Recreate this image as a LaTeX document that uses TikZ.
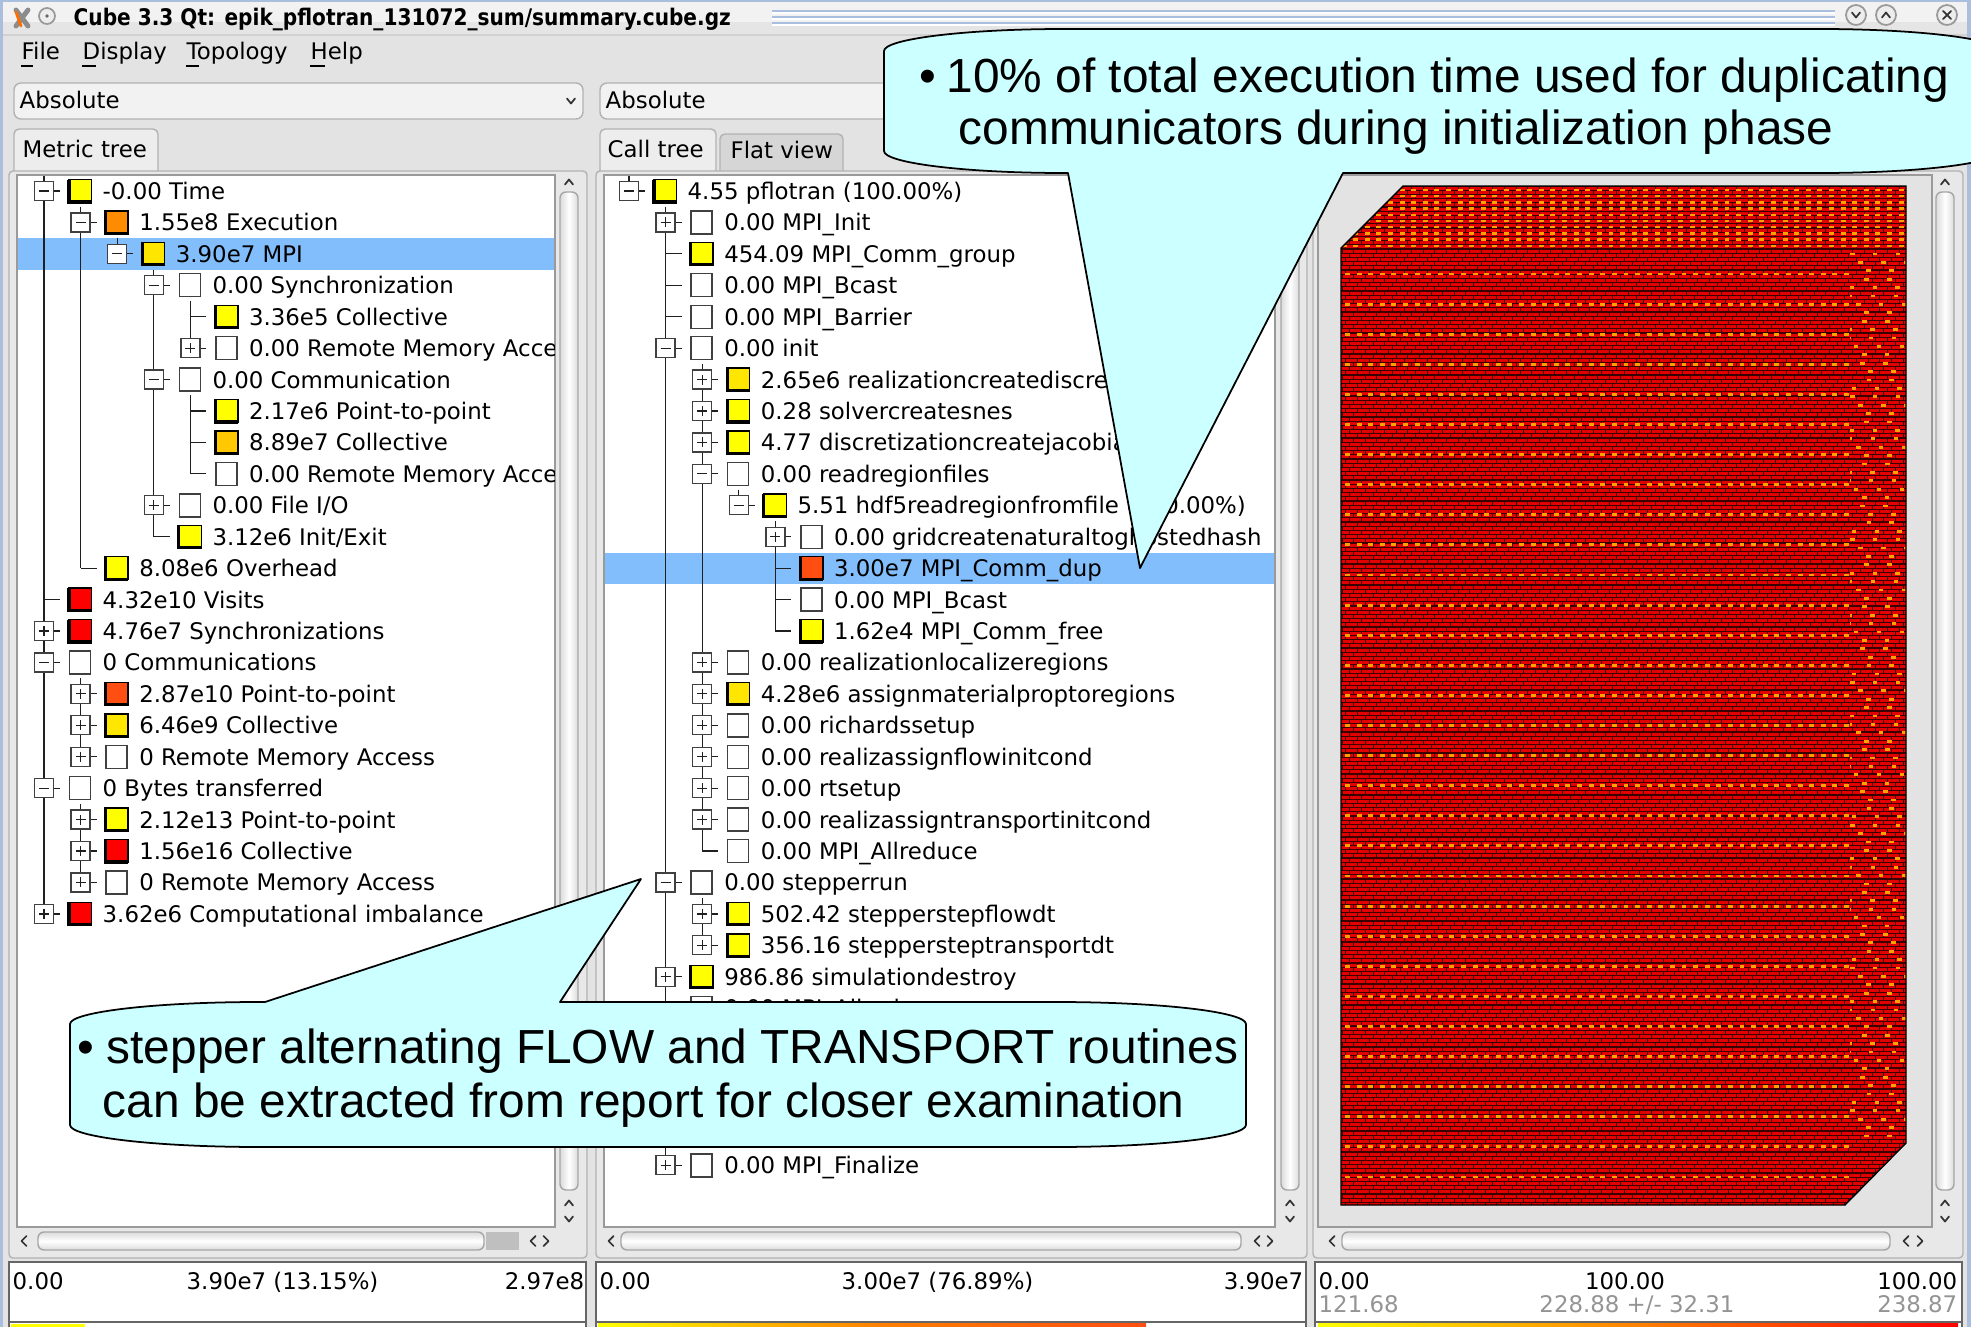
\documentclass[tikz,border=0pt]{standalone}
\usepackage{fontspec}
\newfontfamily\uifont{DejaVu Sans}
\newfontfamily\callfont{Liberation Sans}

\definecolor{winbg}{HTML}{E3E3E3}
\definecolor{paneedge}{HTML}{B2B2B2}
\definecolor{viewedge}{HTML}{9A9A9A}
\definecolor{selblue}{HTML}{82BEFC}
\definecolor{callcyan}{HTML}{CCFFFF}
\definecolor{cYel}{HTML}{FFFF00}
\definecolor{cGold}{HTML}{FFE600}
\definecolor{cOrange}{HTML}{FF8C00}
\definecolor{cAmber}{HTML}{FFC800}
\definecolor{cRedOr}{HTML}{FF4E12}
\definecolor{cRed}{HTML}{FF0000}
\definecolor{topored}{HTML}{E20000}
\definecolor{topodark}{HTML}{3A0000}
\definecolor{topodash}{HTML}{FFA200}
\definecolor{titleblue}{HTML}{A9BFDD}

\tikzset{
  ui/.style={font=\uifont\fontsize{6.5}{7.8}\selectfont, inner sep=0pt, text=black},
  uigray/.style={ui, text=black!42},
  callout/.style={font=\callfont\fontsize{13.6}{16}\selectfont, inner sep=0pt, text=black},
  tline/.style={draw=black!88, line width=0.35pt},
  tbox/.style={draw=black!75, fill=white, line width=0.35pt},
  chev/.style={draw=black!80, line width=0.5pt, line cap=round, line join=round},
  vhandle/.style={draw=black!35, line width=0.4pt, rounded corners=0.06cm,
    left color=black!14, right color=black!14, middle color=white},
  hhandle/.style={draw=black!35, line width=0.4pt, rounded corners=0.06cm,
    top color=black!14, bottom color=black!14, middle color=white},
  bubble/.style={draw=black, line width=0.5pt, fill=callcyan, line join=round},
}

% tree drawing helpers: #1 panel x offset, rows are 31.43 units apart
\newcommand{\tvline}[4]{% level #2, sibling rows #3..#4
  \pgfmathsetmacro\tlx{#1+44+36.6*#2}%
  \pgfmathsetmacro\tly{175.3+31.43*#3}%
  \pgfmathsetmacro\tlz{191+31.43*#4}%
  \draw[tline] (\tlx,\tly) -- (\tlx,\tlz);}
\newcommand{\tbranch}[4]{% row #2, level #3, kind #4: 0 leaf, 1 collapsed, 2 expanded
  \pgfmathsetmacro\tlx{#1+44+36.6*#3}%
  \pgfmathsetmacro\tly{191+31.43*#2}%
  \draw[tline] (\tlx,\tly) -- ++(16,0);
  \ifcase#4\relax
  \or
    \filldraw[tbox] (\tlx-9.5,\tly-9.5) rectangle (\tlx+9.5,\tly+9.5);
    \draw[tline] (\tlx-5,\tly) -- (\tlx+5,\tly) (\tlx,\tly-5) -- (\tlx,\tly+5);
  \or
    \filldraw[tbox] (\tlx-9.5,\tly-9.5) rectangle (\tlx+9.5,\tly+9.5);
    \draw[tline] (\tlx-5,\tly) -- (\tlx+5,\tly);
  \fi}
\newcommand{\tentry}[6]{% coloured value square and label
  \pgfmathsetmacro\tlx{#1+44+36.6*#3}%
  \pgfmathsetmacro\tly{191+31.43*#2}%
  \fill[#4] (\tlx+24.5,\tly-11.5) rectangle (\tlx+47.5,\tly+11.5);
  \draw[black, line width=0.4pt] (\tlx+24.5,\tly-11.5) rectangle (\tlx+47.5,\tly+11.5);
  \draw[black, line width=0.9pt] (\tlx+25,\tly-11.5) -- (\tlx+25,\tly+11) -- (\tlx+47.5,\tly+11);
  \node[ui, anchor=base west] (#5) at (\tlx+58,\tly+8.5) {#6};}
\newcommand{\tentryw}[5]{% empty value square and label
  \pgfmathsetmacro\tlx{#1+44+36.6*#3}%
  \pgfmathsetmacro\tly{191+31.43*#2}%
  \filldraw[draw=black!75, fill=white, line width=0.4pt] (\tlx+25.5,\tly-11.5) rectangle (\tlx+46.5,\tly+11.5);
  \node[ui, anchor=base west] (#4) at (\tlx+58,\tly+8.5) {#5};}
\newcommand{\chevup}[2]{\draw[chev] (#1-4,#2+2.5) -- (#1,#2-2.5) -- (#1+4,#2+2.5);}
\newcommand{\chevdown}[2]{\draw[chev] (#1-4,#2-2.5) -- (#1,#2+2.5) -- (#1+4,#2-2.5);}
\newcommand{\chevleft}[2]{\draw[chev] (#1+2.5,#2-5) -- (#1-2.5,#2) -- (#1+2.5,#2+5);}
\newcommand{\chevright}[2]{\draw[chev] (#1-2.5,#2-5) -- (#1+2.5,#2) -- (#1-2.5,#2+5);}

\begin{document}
\begin{tikzpicture}[x=0.01cm, y=-0.01cm]
\useasboundingbox (0,0) rectangle (1971,1327);
\clip (0,0) rectangle (1971,1327);

% ---------- window ----------
\fill[winbg] (0,0) rectangle (1971,1327);
\fill[white!95!black] (0,0) rectangle (1971,35);
\fill[white!90!black] (0,22) rectangle (1971,35);
\draw[titleblue, line width=0.6pt] (0,0.8) -- (1971,0.8);
\draw[black!18] (0,35) -- (1971,35);
\fill[titleblue] (0,0) rectangle (3,1327);
\fill[titleblue] (1967,0) rectangle (1971,1327);

% title bar
\draw[black!45, line width=1.4pt, line cap=round] (16,10) -- (28,26) (28,10) -- (16,26);
\draw[orange!85!red, line width=0.8pt, line cap=round] (16,12) -- (21,26);
\draw[black!40, fill=white!93!black, line width=0.5pt] (47,16) circle[radius=8];
\fill[black!60] (47,16) circle[radius=1.8];
\node[ui, anchor=base west] (title) at (73,25)
  {\scalebox{0.88}[1]{\bfseries Cube 3.3 Qt: epik\_pflotran\_131072\_sum/summary.cube.gz}};
\foreach \yy in {11,17,23} {
  \draw[titleblue, line width=0.45pt] (772,\yy) -- (1835,\yy);
  \draw[white, line width=0.45pt] (772,\yy+2) -- (1835,\yy+2);
}
\foreach \cx in {1856,1886,1947}
  \draw[black!40, fill=white!93!black, line width=0.5pt] (\cx,15) circle[radius=10];
\chevdown{1856}{15}
\chevup{1886}{15}
\draw[chev] (1943,11) -- (1951,19) (1951,11) -- (1943,19);

% menu bar
\node[ui, anchor=base west] (mFile) at (21,60) {File};
\node[ui, anchor=base west] (mDisp) at (82,60) {Display};
\node[ui, anchor=base west] (mTopo) at (186,60) {Topology};
\node[ui, anchor=base west] (mHelp) at (310,60) {Help};
\draw[black, line width=0.35pt] (21,66) -- (33,66) (82,66) -- (96,66) (186,66) -- (199,66) (310,66) -- (325,66);

% value mode selectors
\draw[black!30, fill=white!95!black, rounded corners=0.07cm] (14,83) rectangle (583,119);
\node[ui, anchor=base west] (selL) at (19,108) {Absolute};
\chevdown{571}{101}
\draw[black!30, fill=white!95!black, rounded corners=0.07cm] (600,83) rectangle (1300,119);
\node[ui, anchor=base west] (selM) at (605,108) {Absolute};

% tabs
\draw[paneedge, fill=white!93!black, rounded corners=0.05cm] (14,172) -- (14,129) -- (158,129) -- (158,172);
\node[ui, anchor=base west] (tabMetric) at (22,157) {Metric tree};
\draw[paneedge, fill=white!93!black, rounded corners=0.05cm] (600,172) -- (600,129) -- (716,129) -- (716,172);
\node[ui, anchor=base west] (tabCall) at (607,157) {Call tree};
\draw[paneedge, fill=white!84!black, rounded corners=0.05cm] (720,172) -- (720,134) -- (843,134) -- (843,172);
\node[ui, anchor=base west] (tabFlat) at (730,158) {Flat view};

% panes
\draw[paneedge, fill=white!91!black, rounded corners=0.04cm] (9,171) rectangle (587,1258);
\draw[paneedge, fill=white!91!black, rounded corners=0.04cm] (596,171) rectangle (1307,1258);
\draw[paneedge, fill=white!91!black, rounded corners=0.04cm] (1313,171) rectangle (1963,1258);
\draw[viewedge, fill=white] (17,175) rectangle (555,1227);
\draw[viewedge, fill=white] (604,175) rectangle (1275,1227);
\draw[viewedge, fill=white!89!black] (1318,175) rectangle (1932,1227);

% vertical scrollbars
\foreach \sx in {569,1290,1945} {
  \draw[vhandle] (\sx-9,192) rectangle (\sx+9,1190);
  \chevup{\sx}{182}
  \chevup{\sx}{1203}
  \chevdown{\sx}{1219}
}
% horizontal scrollbars
\draw[hhandle] (38,1232) rectangle (484,1250);
\fill[black!25] (486,1232) rectangle (519,1250);
\chevleft{24}{1241} \chevleft{533}{1241} \chevright{546}{1241}
\draw[hhandle] (621,1232) rectangle (1241,1250);
\chevleft{611}{1241} \chevleft{1257}{1241} \chevright{1270}{1241}
\draw[hhandle] (1342,1232) rectangle (1890,1250);
\chevleft{1332}{1241} \chevleft{1906}{1241} \chevright{1920}{1241}

% ---------- metric tree ----------
\begin{scope}
\clip (18,176) rectangle (554,1226);
\fill[selblue] (18,238.2) rectangle (554,269.6);
\tvline{0}{0}{0}{23}
\tvline{0}{1}{1}{12}
\tvline{0}{2}{2}{2}
\tvline{0}{3}{3}{11}
\tvline{0}{4}{4}{5}
\tvline{0}{4}{7}{9}
\tvline{0}{1}{16}{18}
\tvline{0}{1}{20}{22}
\tbranch{0}{0}{0}{2} \tbranch{0}{1}{1}{2} \tbranch{0}{2}{2}{2} \tbranch{0}{3}{3}{2}
\tbranch{0}{4}{4}{0} \tbranch{0}{5}{4}{1} \tbranch{0}{6}{3}{2} \tbranch{0}{7}{4}{0}
\tbranch{0}{8}{4}{0} \tbranch{0}{9}{4}{0} \tbranch{0}{10}{3}{1} \tbranch{0}{11}{3}{0}
\tbranch{0}{12}{1}{0} \tbranch{0}{13}{0}{0} \tbranch{0}{14}{0}{1} \tbranch{0}{15}{0}{2}
\tbranch{0}{16}{1}{1} \tbranch{0}{17}{1}{1} \tbranch{0}{18}{1}{1} \tbranch{0}{19}{0}{2}
\tbranch{0}{20}{1}{1} \tbranch{0}{21}{1}{1} \tbranch{0}{22}{1}{1} \tbranch{0}{23}{0}{1}
\tentry{0}{0}{0}{cYel}{a0}{-0.00 Time}
\tentry{0}{1}{1}{cOrange}{a1}{1.55e8 Execution}
\tentry{0}{2}{2}{cGold}{a2}{3.90e7 MPI}
\tentryw{0}{3}{3}{a3}{0.00 Synchronization}
\tentry{0}{4}{4}{cYel}{a4}{3.36e5 Collective}
\tentryw{0}{5}{4}{a5}{0.00 Remote Memory Access}
\tentryw{0}{6}{3}{a6}{0.00 Communication}
\tentry{0}{7}{4}{cYel}{a7}{2.17e6 Point-to-point}
\tentry{0}{8}{4}{cAmber}{a8}{8.89e7 Collective}
\tentryw{0}{9}{4}{a9}{0.00 Remote Memory Access}
\tentryw{0}{10}{3}{a10}{0.00 File I/O}
\tentry{0}{11}{3}{cYel}{a11}{3.12e6 Init/Exit}
\tentry{0}{12}{1}{cYel}{a12}{8.08e6 Overhead}
\tentry{0}{13}{0}{cRed}{a13}{4.32e10 Visits}
\tentry{0}{14}{0}{cRed}{a14}{4.76e7 Synchronizations}
\tentryw{0}{15}{0}{a15}{0 Communications}
\tentry{0}{16}{1}{cRedOr}{a16}{2.87e10 Point-to-point}
\tentry{0}{17}{1}{cGold}{a17}{6.46e9 Collective}
\tentryw{0}{18}{1}{a18}{0 Remote Memory Access}
\tentryw{0}{19}{0}{a19}{0 Bytes transferred}
\tentry{0}{20}{1}{cYel}{a20}{2.12e13 Point-to-point}
\tentry{0}{21}{1}{cRed}{a21}{1.56e16 Collective}
\tentryw{0}{22}{1}{a22}{0 Remote Memory Access}
\tentry{0}{23}{0}{cRed}{a23}{3.62e6 Computational imbalance}
\end{scope}

% ---------- call tree ----------
\begin{scope}
\clip (605,176) rectangle (1274,1226);
\fill[selblue] (605,552.5) rectangle (1274,583.9);
\tvline{585}{0}{0}{0}
\tvline{585}{1}{1}{31}
\tvline{585}{2}{6}{21}
\tvline{585}{3}{10}{10}
\tvline{585}{4}{11}{14}
\tvline{585}{2}{23}{24}
\tbranch{585}{0}{0}{2} \tbranch{585}{1}{1}{1} \tbranch{585}{2}{1}{0} \tbranch{585}{3}{1}{0}
\tbranch{585}{4}{1}{0} \tbranch{585}{5}{1}{2} \tbranch{585}{6}{2}{1} \tbranch{585}{7}{2}{1}
\tbranch{585}{8}{2}{1} \tbranch{585}{9}{2}{2} \tbranch{585}{10}{3}{2} \tbranch{585}{11}{4}{1}
\tbranch{585}{12}{4}{0} \tbranch{585}{13}{4}{0} \tbranch{585}{14}{4}{0} \tbranch{585}{15}{2}{1}
\tbranch{585}{16}{2}{1} \tbranch{585}{17}{2}{1} \tbranch{585}{18}{2}{1} \tbranch{585}{19}{2}{1}
\tbranch{585}{20}{2}{1} \tbranch{585}{21}{2}{0} \tbranch{585}{22}{1}{2} \tbranch{585}{23}{2}{1}
\tbranch{585}{24}{2}{1} \tbranch{585}{25}{1}{1} \tbranch{585}{26}{1}{0} \tbranch{585}{31}{1}{1}
\tentry{585}{0}{0}{cYel}{b0}{4.55 pflotran (100.00\%)}
\tentryw{585}{1}{1}{b1}{0.00 MPI\_Init}
\tentry{585}{2}{1}{cYel}{b2}{454.09 MPI\_Comm\_group}
\tentryw{585}{3}{1}{b3}{0.00 MPI\_Bcast}
\tentryw{585}{4}{1}{b4}{0.00 MPI\_Barrier}
\tentryw{585}{5}{1}{b5}{0.00 init}
\tentry{585}{6}{2}{cGold}{b6}{2.65e6 realizationcreatediscretization}
\tentry{585}{7}{2}{cYel}{b7}{0.28 solvercreatesnes}
\tentry{585}{8}{2}{cYel}{b8}{4.77 discretizationcreatejacobian}
\tentryw{585}{9}{2}{b9}{0.00 readregionfiles}
\tentry{585}{10}{3}{cYel}{b10}{5.51 hdf5readregionfromfile (100.00\%)}
\tentryw{585}{11}{4}{b11}{0.00 gridcreatenaturaltoghostedhash}
\tentry{585}{12}{4}{cRedOr}{b12}{3.00e7 MPI\_Comm\_dup}
\tentryw{585}{13}{4}{b13}{0.00 MPI\_Bcast}
\tentry{585}{14}{4}{cYel}{b14}{1.62e4 MPI\_Comm\_free}
\tentryw{585}{15}{2}{b15}{0.00 realizationlocalizeregions}
\tentry{585}{16}{2}{cGold}{b16}{4.28e6 assignmaterialproptoregions}
\tentryw{585}{17}{2}{b17}{0.00 richardssetup}
\tentryw{585}{18}{2}{b18}{0.00 realizassignflowinitcond}
\tentryw{585}{19}{2}{b19}{0.00 rtsetup}
\tentryw{585}{20}{2}{b20}{0.00 realizassigntransportinitcond}
\tentryw{585}{21}{2}{b21}{0.00 MPI\_Allreduce}
\tentryw{585}{22}{1}{b22}{0.00 stepperrun}
\tentry{585}{23}{2}{cYel}{b23}{502.42 stepperstepflowdt}
\tentry{585}{24}{2}{cYel}{b24}{356.16 steppersteptransportdt}
\tentry{585}{25}{1}{cYel}{b25}{986.86 simulationdestroy}
\tentryw{585}{26}{1}{b26}{0.00 MPI\_Allreduce}
\tentryw{585}{31}{1}{b31}{0.00 MPI\_Finalize}
\end{scope}

% ---------- system topology ----------
\begin{scope}
\clip (1403,186) -- (1906,186) -- (1906,1143) -- (1845,1205) -- (1341,1205) -- (1341,248) -- cycle;
\fill[topored] (1330,180) rectangle (1910,1210);
\foreach \k in {0,...,243} {
  \pgfmathsetmacro\ph{mod(\k,3)*1.1}
  \draw[topodark, line width=0.3pt] (1330,{186+4.2*\k}) -- (1910,{186+4.2*\k});
  \draw[topodark, line width=0.9pt, dash pattern=on 0.28pt off 3.02pt, dash phase=\ph pt]
    (1330,{188.1+4.2*\k}) -- (1910,{188.1+4.2*\k});
}
% processes on the top face
\foreach \k in {0,...,9}
  \draw[topodash, line width=0.7pt, dash pattern=on 1.4pt off 1.9pt] (1330,{190+6.2*\k}) -- (1910,{190+6.2*\k});
% processes on the front face
\foreach \k in {0,...,30}
  \draw[topodash, line width=0.8pt, dash pattern=on 1.4pt off 1.9pt] (1345,{274+30.1*\k}) -- (1850,{274+30.1*\k});
% processes on the side face
\foreach \k in {0,...,105} {
  \pgfmathsetmacro\ph{mod(\k*7,17)*0.6}
  \draw[topodash, line width=0.8pt, dash pattern=on 1.3pt off 5.2pt, dash phase=\ph pt]
    (1850,{254+8.4*\k}) -- (1906,{254+8.4*\k});
}
\end{scope}
\draw[black, line width=0.4pt] (1403,186) -- (1906,186) -- (1906,1143) -- (1845,1205) -- (1341,1205) -- (1341,248) -- cycle;

% ---------- value bars ----------
\draw[black!60, fill=white] (9,1262) rectangle (586,1335);
\draw[black!60] (9,1322) -- (586,1322);
\fill[cYel] (11,1323.5) rectangle (85,1327);
\draw[black!60, fill=white] (596,1262) rectangle (1306,1335);
\draw[black!60] (596,1322) -- (1306,1322);
\shade[left color=cYel, right color=orange] (598,1323.5) rectangle (880,1327);
\shade[left color=orange, right color=cRedOr] (880,1323.5) rectangle (1146,1327);
\draw[black!60, fill=white] (1315,1262) rectangle (1962,1335);
\draw[black!60] (1315,1322) -- (1962,1322);
\shade[left color=cYel, right color=orange] (1318,1323.5) rectangle (1640,1327);
\shade[left color=orange, right color=cRed] (1640,1323.5) rectangle (1958,1327);

\node[ui, anchor=base west] (lv0) at (12,1289) {0.00};
\node[ui, anchor=base west] (lv1) at (186,1289) {3.90e7 (13.15\%)};
\node[ui, anchor=base east] (lv2) at (585,1289) {2.97e8};
\node[ui, anchor=base west] (mv0) at (599,1289) {0.00};
\node[ui, anchor=base west] (mv1) at (841,1289) {3.00e7 (76.89\%)};
\node[ui, anchor=base east] (mv2) at (1304,1289) {3.90e7};
\node[ui, anchor=base west] (rv0) at (1318,1289) {0.00};
\node[ui, anchor=base] (rv1) at (1625,1289) {100.00};
\node[ui, anchor=base east] (rv2) at (1958,1289) {100.00};
\node[uigray, anchor=base west] (rv3) at (1318,1312) {121.68};
\node[uigray, anchor=base] (rv4) at (1637,1312) {228.88 +/- 32.31};
\node[uigray, anchor=base east] (rv5) at (1958,1312) {238.87};

% ---------- callouts ----------
\path[bubble] (884,51) .. controls (884,39) and (965,29) .. (1064,29) -- (1820,29)
  .. controls (1919,29) and (2000,39) .. (2000,51) -- (2000,151)
  .. controls (2000,163) and (1919,173) .. (1820,173) -- (1343,173) -- (1140,568) -- (1068,173) -- (1064,173)
  .. controls (965,173) and (884,163) .. (884,151) -- cycle;
\node[callout, anchor=base west] (topBullet) at (919,93) {•};
\node[callout, anchor=base west] (topLine1) at (946,93) {10\% of total execution time used for duplicating};
\node[callout, anchor=base west] (topLine2) at (958,144) {communicators during initialization phase};

\path[bubble] (70,1024) .. controls (70,1012) and (155,1002) .. (260,1002) -- (265,1002) -- (641,879) -- (560,1002) -- (1056,1002)
  .. controls (1161,1002) and (1246,1012) .. (1246,1024) -- (1246,1125)
  .. controls (1246,1137) and (1161,1147) .. (1056,1147) -- (260,1147)
  .. controls (155,1147) and (70,1137) .. (70,1125) -- cycle;
\node[callout, anchor=base west] (lowBullet) at (77,1063) {•};
\node[callout, anchor=base west] (lowLine1) at (106,1063) {stepper alternating FLOW and TRANSPORT routines};
\node[callout, anchor=base west] (lowLine2) at (102,1117) {can be extracted from report for closer examination};
\end{tikzpicture}
\end{document}
